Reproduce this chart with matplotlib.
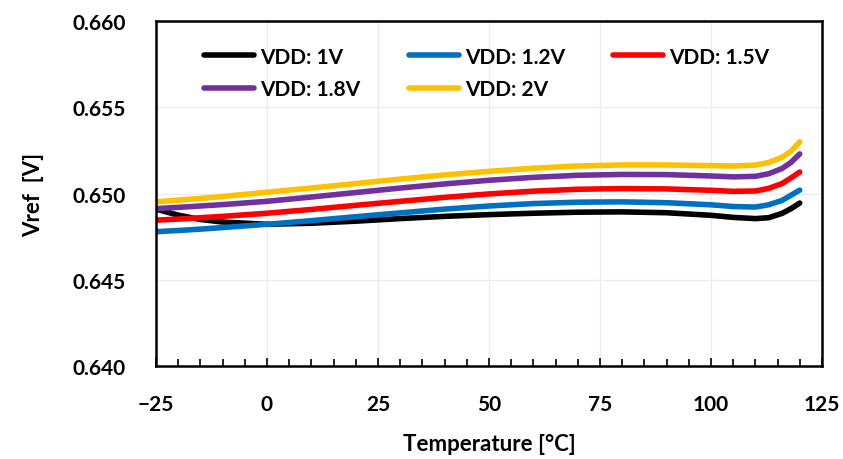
import matplotlib.pyplot as plt
from matplotlib.ticker import MultipleLocator

temps = [-25, -20, -15, -10, 0, 10, 20, 30, 40, 50, 60, 70, 80, 90, 100, 105, 110, 113, 116, 118, 120]

vdd_1v = [0.64910, 0.64875, 0.64850, 0.64835, 0.64822, 0.64828, 0.64840, 0.64855, 0.64868, 0.64878,
          0.64886, 0.64892, 0.64894, 0.64889, 0.64874, 0.64862, 0.64855, 0.64860, 0.64885, 0.64912, 0.64945]
vdd_12v = [0.64779, 0.64786, 0.64794, 0.64803, 0.64822, 0.64843, 0.64866, 0.64888, 0.64910, 0.64928,
           0.64942, 0.64950, 0.64952, 0.64947, 0.64935, 0.64925, 0.64922, 0.64935, 0.64960, 0.64990, 0.65020]
vdd_15v = [0.64846, 0.64852, 0.64860, 0.64868, 0.64886, 0.64908, 0.64932, 0.64955, 0.64978, 0.64998,
           0.65014, 0.65025, 0.65029, 0.65027, 0.65019, 0.65013, 0.65015, 0.65030, 0.65058, 0.65090, 0.65125]
vdd_18v = [0.64913, 0.64920, 0.64928, 0.64936, 0.64955, 0.64980, 0.65006, 0.65032, 0.65056, 0.65077,
           0.65094, 0.65106, 0.65111, 0.65110, 0.65102, 0.65097, 0.65100, 0.65115, 0.65145, 0.65180, 0.65230]
vdd_2v = [0.64952, 0.64962, 0.64972, 0.64983, 0.65008, 0.65032, 0.65058, 0.65084, 0.65108, 0.65129,
          0.65147, 0.65160, 0.65166, 0.65166, 0.65162, 0.65160, 0.65165, 0.65180, 0.65210, 0.65245, 0.65300]

labels = ['VDD: 1V', 'VDD: 1.2V', 'VDD: 1.5V', 'VDD: 1.8V', 'VDD: 2V']
colors = ['#000000', '#0070C0', '#FF0000', '#7030A0', '#FFC000']

plt.rcParams['font.family'] = ['Lato', 'DejaVu Sans']
plt.rcParams['font.weight'] = 'bold'

fig = plt.figure(figsize=(8.43, 4.6), dpi=100)
ax = fig.add_axes([0.185, 0.202, 0.79, 0.750])

lines = []
for ys, lab, c in zip([vdd_1v, vdd_12v, vdd_15v, vdd_18v, vdd_2v], labels, colors):
    ln, = ax.plot(temps, ys, color=c, lw=4, label=lab, solid_capstyle='round')
    lines.append(ln)

ax.set_xlim(-25, 125)
ax.set_ylim(0.640, 0.660)
ax.xaxis.set_major_locator(MultipleLocator(25))
ax.xaxis.set_minor_locator(MultipleLocator(5))
ax.yaxis.set_major_locator(MultipleLocator(0.005))
ax.yaxis.set_major_formatter(plt.FormatStrFormatter('%.3f'))
ax.grid(True, which='major', color='#ececec', lw=1)
ax.set_axisbelow(True)

ax.tick_params(axis='x', which='major', direction='in', length=6, width=1.2, labelsize=15, pad=20)
ax.tick_params(axis='x', which='minor', direction='in', length=5, width=1.2)
ax.tick_params(axis='y', which='both', length=0, labelsize=15, pad=22)
for s in ax.spines.values():
    s.set_linewidth(1.8)

ax.set_xlabel('Temperature [\u00b0C]', fontsize=16, fontweight='bold', labelpad=14)
ax.set_ylabel('Vref  [V]', fontsize=16, fontweight='bold', labelpad=20)

# row-major order like the original legend
order = [0, 3, 1, 4, 2]
ax.legend([lines[i] for i in order], [labels[i] for i in order], loc='upper left', ncol=3,
          frameon=False, fontsize=15, handlelength=2.4, handletextpad=0.3, columnspacing=2.3,
          borderaxespad=0.0, bbox_to_anchor=(0.06, 0.95), labelspacing=0.6)

fig.savefig('out.png', dpi=100)
